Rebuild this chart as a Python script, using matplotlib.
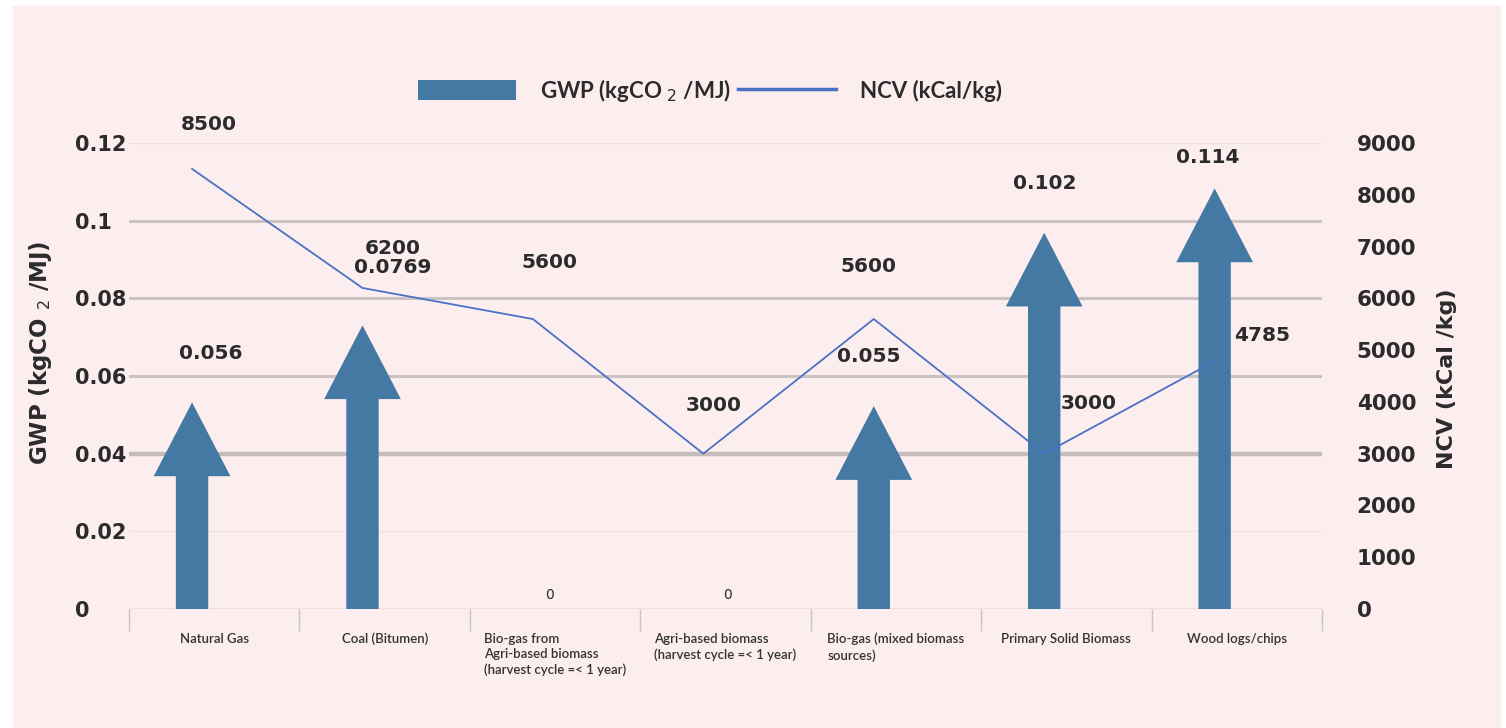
import numpy as np
import matplotlib
matplotlib.use("Agg")
import matplotlib.pyplot as plt
from matplotlib.patches import FancyArrow, Rectangle, Patch
from matplotlib.lines import Line2D

# data
categories = ["Natural Gas", "Coal (Bitumen)",
              "Bio-gas from\nAgri-based biomass\n(harvest cycle =< 1 year)",
              "Agri-based biomass\n(harvest cycle =< 1 year)",
              "Bio-gas (mixed biomass\nsources)",
              "Primary Solid Biomass", "Wood logs/chips"]
gwp = [0.056, 0.0769, 0, 0, 0.055, 0.102, 0.114]
ncv = [8500, 6200, 5600, 3000, 5600, 3000, 4785]
gwp_ticks = [0, 0.02, 0.04, 0.06, 0.08, 0.1, 0.12]
gwp_ticklabels = ["0", "0.02", "0.04", "0.06", "0.08", "0.1", "0.12"]
ncv_ticks = [0, 1000, 2000, 3000, 4000, 5000, 6000, 7000, 8000, 9000]

# label nudges in pixels (hand placed in the original)
gwp_label_off = [(19, 38), (30, 43), (17, 14), (24, 14), (-5, 39), (1, 29), (-7, 9)]
ncv_label_off = [(17, 44), (30, 39), (17, 57), (10, 48), (-5, 53), (44, 50), (47, 26)]

BLUE = "#4479a3"
LINE = "#4a72c4"
PINK = "#fcedee"
TXT = "#2b2b2b"

fig = plt.figure(figsize=(15.06, 7.28), dpi=100, facecolor="white")
fig.patches.append(Rectangle((13 / 1506, 0), 1487 / 1506, 1 - 6 / 728,
                             transform=fig.transFigure, color=PINK, zorder=-10))

ax = fig.add_axes([129 / 1506, 1 - 609 / 728, 1193 / 1506, 466 / 728])
ax.set_facecolor("none")
ax2 = ax.twinx()
ax2.set_facecolor("none")

n = len(categories)
xpos = np.arange(n) - 0.13

# gridlines with the uneven look of the original
grid_style = {0: ("#ecdcdc", 1.2), 0.02: ("#f0e2e2", 1.0), 0.04: ("#c6bcbc", 3.2),
              0.06: ("#cbc3c3", 2.2), 0.08: ("#cbc3c3", 2.2), 0.1: ("#cbc3c3", 2.2),
              0.12: ("#eedfdf", 1.0)}
for v in gwp_ticks:
    c, lw = grid_style[v]
    ax.axhline(v, color=c, lw=lw, zorder=0)

# arrows (picture fill leaves a little padding above the tip)
for x, v in zip(xpos, gwp):
    if v > 0:
        ax.add_patch(FancyArrow(x, 0, 0, v * 0.95, width=0.19, head_width=0.45,
                                head_length=0.019, length_includes_head=True,
                                color=BLUE, lw=0, zorder=2))

ax2.plot(xpos, ncv, color=LINE, lw=1.3, zorder=3)

lbl_font = dict(family="DejaVu Sans", fontweight="bold", fontsize=14.5, color=TXT)
for x, v, (dx, dy) in zip(xpos, gwp, gwp_label_off):
    if v > 0:
        ax.annotate(f"{v:g}", (x, v), xytext=(dx, dy), textcoords="offset pixels",
                    ha="center", va="center", **lbl_font)
    else:
        ax.annotate("0", (x, v), xytext=(dx, dy), textcoords="offset pixels",
                    ha="center", va="center", fontsize=10, color=TXT)
for x, v, (dx, dy) in zip(xpos, ncv, ncv_label_off):
    ax2.annotate(f"{v}", (x, v), xytext=(dx, dy), textcoords="offset pixels",
                 ha="center", va="center", **lbl_font)

ax.set_xlim(-0.5, n - 0.5)
ax.set_ylim(0, 0.12)
ax2.set_ylim(0, 9000)

ax.set_xticks(np.arange(n + 1) - 0.5)
ax.set_xticklabels([])
ax.set_xticks(np.arange(n), minor=True)
ax.set_xticklabels(categories, minor=True, family=["Lato", "DejaVu Sans"],
                   fontsize=9.5, fontweight="semibold", color="#333333",
                   multialignment="left", va="top", linespacing=1.35)
ax.tick_params(axis="x", which="major", length=16, width=1, color="#c8c4c4")
ax.tick_params(axis="x", which="minor", length=0, pad=17)

ax.set_yticks(gwp_ticks)
ax.set_yticklabels(gwp_ticklabels, ha="left", family="DejaVu Sans",
                   fontweight="bold", fontsize=15, color=TXT)
ax.tick_params(axis="y", length=0, pad=39)
ax2.set_yticks(ncv_ticks)
ax2.set_yticklabels([str(t) for t in ncv_ticks], family="DejaVu Sans",
                    fontweight="bold", fontsize=15.5, color=TXT)
ax2.tick_params(axis="y", length=0, pad=25)

for a in (ax, ax2):
    for s in a.spines.values():
        s.set_visible(False)

ax.set_ylabel("GWP (kgCO $_2$ /MJ)", family="DejaVu Sans", fontweight="bold",
              fontsize=16.5, color=TXT)
ax.yaxis.set_label_coords(-0.063, 0.55)
ax2.set_ylabel("NCV (kCal /kg)", family="DejaVu Sans", fontweight="bold",
               fontsize=16, color=TXT)
ax2.yaxis.set_label_coords(1.096, 0.494)

handles = [Patch(facecolor=BLUE, edgecolor="none"), Line2D([], [], color=LINE, lw=2.5)]
fig.legend(handles, ["GWP (kgCO $_2$ /MJ)", "NCV (kCal/kg)"], loc="center",
           bbox_to_anchor=(710 / 1506, 1 - 90 / 728), ncol=2, frameon=False,
           prop=dict(family=["Lato", "DejaVu Sans"], weight="bold", size=16),
           handlelength=4.4, handleheight=1.0, handletextpad=1.1, columnspacing=0.3,
           labelcolor=TXT)

fig.savefig("out.png", dpi=100, facecolor="white")
